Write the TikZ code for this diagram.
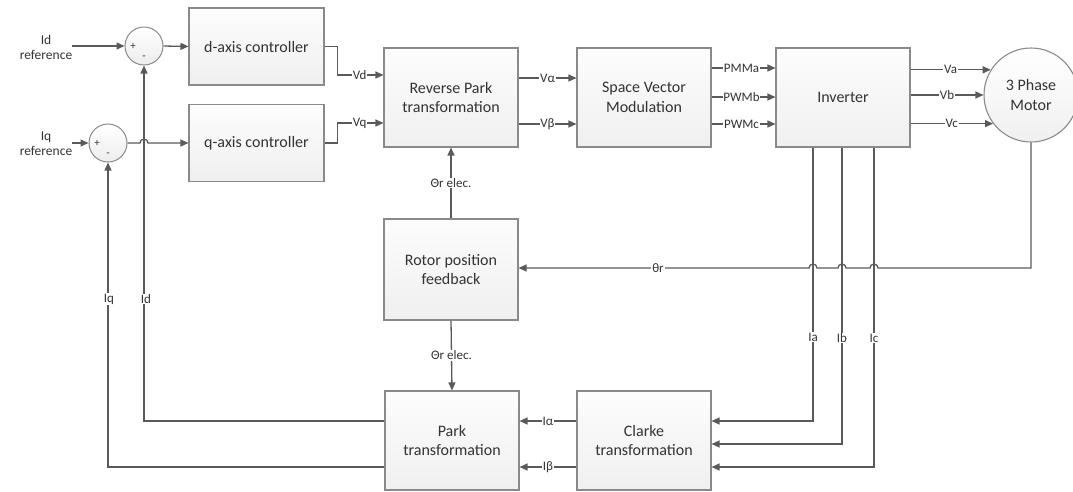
\documentclass[tikz,border=0pt]{standalone}
\usepackage{fontspec}
\setmainfont{Carlito}
\usetikzlibrary{arrows.meta,calc}
\definecolor{wire}{HTML}{5A5A5A}
\definecolor{boxedge}{HTML}{8A8A8A}
\definecolor{txt}{HTML}{333333}
\begin{document}
\begin{tikzpicture}[x=1pt,y=-1pt,
  block/.style={draw=boxedge,line width=1.1pt,top color=gray!2,bottom color=gray!12,
    minimum width=134pt,minimum height=99pt,text=txt,align=center,inner sep=0pt,
    font=\fontsize{16}{19.5}\selectfont},
  sumnode/.style={circle,draw=boxedge,line width=1pt,top color=white,bottom color=gray!14,
    minimum size=38pt,inner sep=0pt},
  link/.style={draw=wire,line width=1.3pt},
  arr/.style={link,-{Triangle[length=8pt,width=7pt]}},
  lbl/.style={fill=white,inner sep=0.8pt,text=txt,font=\fontsize{13}{14}\selectfont},
  side/.style={align=center,inner sep=0pt,text=txt,font=\fontsize{13.5}{15.5}\selectfont},
  sign/.style={inner sep=0pt,text=txt,font=\fontsize{11}{11}\selectfont},
]
\useasboundingbox (0,0) rectangle (1073,491);

% ---- blocks ----
\node[block,minimum width=135pt,minimum height=77pt] (dctl) at (256.5,46.5) {d-axis controller};
\node[block,minimum width=135pt,minimum height=77pt] (qctl) at (256.5,143) {q-axis controller};
\node[block] (rpark)  at (451,97.5)  {Reverse Park\\transformation};
\node[block] (svm)    at (644,97.5)  {Space Vector\\Modulation};
\node[block] (inv)    at (843,97.5)  {Inverter};
\node[block,minimum height=101pt] (rotor) at (451,269.5) {Rotor position\\feedback};
\node[block] (park)   at (452,440.5) {Park\\transformation};
\node[block] (clarke) at (644,440.5) {Clarke\\transformation};
\node[circle,draw=boxedge,line width=1.1pt,top color=white,bottom color=gray!12,
      minimum size=94pt,inner sep=0pt,align=center,text=txt,
      font=\fontsize{16}{19.5}\selectfont] (motor) at (1031,95) {3 Phase\\Motor};

% ---- summing junctions ----
\node[sumnode] (s1) at (144,46) {};
\node[sumnode] (s2) at (108,143) {};
\node[sign] at ($(s1)+(-11,0)$) {+};
\node[sign] at ($(s1)+(0,12)$) {-};
\node[sign] at ($(s2)+(-11,0)$) {+};
\node[sign] at ($(s2)+(0,12)$) {-};

% ---- references ----
\node[side] (idref) at (46,47.5) {Id\\reference};
\node[side] (iqref) at (46,143.5) {Iq\\reference};
\draw[arr] (idref.east |- s1) -- (s1.west);
\draw[arr] (iqref.east |- s2) -- (s2.west);

% ---- helper levels ----
\coordinate (yA) at (0,78);   \coordinate (yB) at (0,124);
\coordinate (yP1) at (0,68);  \coordinate (yP2) at (0,97);  \coordinate (yP3) at (0,124);
\coordinate (yR) at (0,268);
\coordinate (yI1) at (0,421); \coordinate (yI2) at (0,444); \coordinate (yI3) at (0,467);
\coordinate (xa) at (813,0);  \coordinate (xb) at (842,0);  \coordinate (xc) at (874,0);

% ---- forward path ----
\draw[arr] (s1.east) -- (dctl.west);
\draw[arr] (s2.east) -- ($(s2 -| s1)+(-4,0)$) arc[start angle=180,end angle=360,radius=4] -- (qctl.west);
\draw[arr] (dctl.east) -- ++(13,0) |- ($(rpark.west)+(0,-22.5)$) node[lbl,pos=0.74] {Vd};
\draw[arr] (qctl.east) -- ++(13,0) |- ($(rpark.west)+(0,25.5)$) node[lbl,pos=0.74] {Vq};
\draw[arr] (rpark.east |- yA) -- (svm.west |- yA) node[lbl,midway] {Vα};
\draw[arr] (rpark.east |- yB) -- (svm.west |- yB) node[lbl,midway] {Vβ};
\draw[arr] (svm.east |- yP1) -- (inv.west |- yP1) node[lbl,midway,xshift=-2pt] {PMMa};
\draw[arr] (svm.east |- yP2) -- (inv.west |- yP2) node[lbl,midway,xshift=-2pt] {PWMb};
\draw[arr] (svm.east |- yP3) -- (inv.west |- yP3) node[lbl,midway,xshift=-2pt] {PWMc};
\draw[arr] (inv.east |- motor.148) -- (motor.148) node[lbl,midway] {Va};
\draw[arr] (inv.east |- motor.west) -- (motor.west) node[lbl,midway] {Vb};
\draw[arr] (inv.east |- motor.217) -- (motor.217) node[lbl,midway] {Vc};

% ---- rotor angle ----
\draw[arr] (motor.south) |- ($(xc |- yR)+(4,0)$)
  arc[start angle=0,end angle=-180,radius=4] -- ($(xb |- yR)+(4,0)$)
  arc[start angle=0,end angle=-180,radius=4] -- ($(xa |- yR)+(4,0)$)
  arc[start angle=0,end angle=-180,radius=4] -- (rotor.east |- yR)
  node[lbl] at (658,268) {θr};
\draw[arr] (rotor.north) -- (rpark.south) node[lbl,midway] {Θr elec.};
\draw[arr] (rotor.south) -- (park.north) node[lbl,midway] {Θr elec.};

% ---- measured currents ----
\draw[arr] (inv.south -| xa) |- (clarke.east |- yI1) node[lbl] at (813,337) {Ia};
\draw[arr] (inv.south -| xb) |- (clarke.east |- yI2) node[lbl] at (842,338) {Ib};
\draw[arr] (inv.south -| xc) |- (clarke.east |- yI3) node[lbl] at (874,338) {Ic};
\draw[arr] (clarke.west |- yI1) -- (park.east |- yI1) node[lbl,midway] {Iα};
\draw[arr] (clarke.west |- yI3) -- (park.east |- yI3) node[lbl,midway] {Iβ};

% ---- current feedback ----
\draw[arr] (park.west |- yI1) -| (s1.south) node[lbl] at (146,299) {Id};
\draw[arr] (park.west |- yI3) -| (s2.south) node[lbl] at (109,299) {Iq};
\end{tikzpicture}
\end{document}
